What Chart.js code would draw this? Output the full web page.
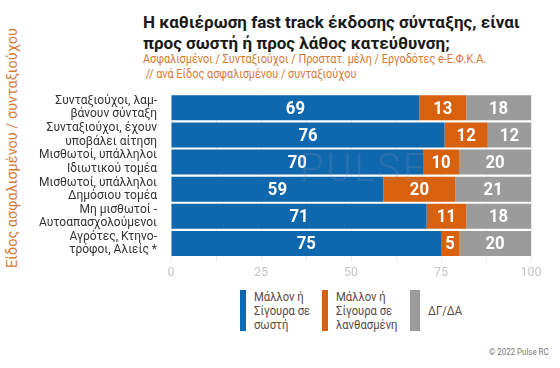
<!DOCTYPE html>
<html>
<head>
<meta charset="utf-8">
<script src="https://cdn.jsdelivr.net/npm/chart.js@4"></script>
<style>
  html, body { margin:0; padding:0; background:#fff; }
  body { width:560px; height:368px; position:relative; overflow:hidden;
         font-family:"Roboto",sans-serif; }
  #title { position:absolute; left:143px; top:12px; font-size:17px; font-weight:bold;
           line-height:21px; color:#1a1a1a; }
  #subtitle { position:absolute; left:143px; top:51px; font-size:12.5px; line-height:15px;
              color:#d57a35; transform:scaleX(0.87); transform-origin:left top; white-space:nowrap; }
  #ytitle { position:absolute; left:12px; top:148px; transform:translate(-50%,-50%) rotate(-90deg);
            white-space:nowrap; font-size:14.5px; color:#d57a35; }
  #wrap { position:absolute; left:0; top:75px; width:560px; height:208px; }
  #legend { position:absolute; top:290px; left:240px; display:flex; }
  .li { display:flex; align-items:flex-start; margin-right:6px; }
  .box { width:10px; height:41px; margin-right:8px; }
  .lt { font-size:12.5px; line-height:14px; color:#5a4a44; transform:scaleX(0.9); transform-origin:left top; white-space:nowrap; }
  #copy { position:absolute; right:11px; top:347px; font-size:9px; color:#777;
          transform:scaleX(0.88); transform-origin:right top; }
  #wm { position:absolute; left:300px; top:146px; font-size:38px; letter-spacing:3px; font-weight:300;
        color:rgba(150,150,175,0.22); z-index:2; }
</style>
</head>
<body>
<div id="title">Η καθιέρωση fast track έκδοσης σύνταξης, είναι<br>προς σωστή ή προς λάθος κατεύθυνση;</div>
<div id="subtitle">Ασφαλισμένοι / Συνταξιούχοι / Προστατ. μέλη / Εργοδότες e-Ε.Φ.Κ.Α.<br>&nbsp;// ανά Είδος ασφαλισμένου / συνταξιούχου</div>
<div id="ytitle">Είδος ασφαλισμένου / συνταξιούχου</div>
<div id="wrap"><canvas id="c"></canvas></div>
<div id="wm">PULSE</div>
<div id="legend"></div>
<div id="copy">© 2022 Pulse RC</div>
<script>
const categories = [
  ["Συνταξιούχοι, λαμ-", "βάνουν σύνταξη"],
  ["Συνταξιούχοι, έχουν", "υποβάλει αίτηση"],
  ["Μισθωτοί, υπάλληλοι", "Ιδιωτικού τομέα"],
  ["Μισθωτοί, υπάλληλοι", "Δημόσιου τομέα"],
  ["Μη μισθωτοί -", "Αυτοαπασχολούμενοι"],
  ["Αγρότες, Κτηνο-", "τρόφοι, Αλιείς *"]
];
const seriesNames = [
  ["Μάλλον ή", "Σίγουρα σε", "σωστή"],
  ["Μάλλον ή", "Σίγουρα σε", "λανθασμένη"],
  ["ΔΓ/ΔΑ"]
];
const correctValues = [69, 76, 70, 59, 71, 75];
const wrongValues   = [13, 12, 10, 20, 11, 5];
const dkValues      = [18, 12, 20, 21, 18, 20];
const tickLabels = [0, 25, 50, 75, 100];
const colors = ["#0f67ae", "#d8610f", "#9b9b9b"];

const allValues = [correctValues, wrongValues, dkValues];

// legend
const lg = document.getElementById('legend');
const legendWidths = [76, 82, 60];
seriesNames.forEach((n, i) => {
  const d = document.createElement('div'); d.className = 'li';
  d.style.width = legendWidths[i] + 'px';
  const single = n.length === 1;
  d.innerHTML = '<div class="box" style="background:' + colors[i] + '"></div><div class="lt" style="' +
    (single ? 'margin-top:14px' : '') + '">' + n.join('<br>') + '</div>';
  lg.appendChild(d);
});

const labelPlugin = {
  id: 'vals',
  afterDatasetsDraw(chart) {
    const ctx = chart.ctx;
    chart.data.datasets.forEach((ds, di) => {
      chart.getDatasetMeta(di).data.forEach((bar, i) => {
        const x = (bar.x + bar.base) / 2;
        ctx.save();
        ctx.translate(x, bar.y + 1);
        ctx.scale(0.88, 1);
        ctx.font = 'bold 19px Roboto, sans-serif';
        ctx.fillStyle = '#fff';
        ctx.textAlign = 'center';
        ctx.textBaseline = 'middle';
        ctx.fillText(String(ds.data[i]), 0, 0);
        ctx.restore();
      });
    });
  }
};

new Chart(document.getElementById('c'), {
  type: 'bar',
  data: {
    labels: categories,
    datasets: allValues.map((v, i) => ({
      label: seriesNames[i].join(' '),
      data: v,
      backgroundColor: colors[i],
      categoryPercentage: 1,
      barPercentage: 0.92
    }))
  },
  options: {
    indexAxis: 'y',
    responsive: true,
    maintainAspectRatio: false,
    animation: false,
    layout: { padding: { top: 8, right: 29, bottom: 0, left: 0 } },
    plugins: { legend: { display: false }, tooltip: { enabled: false } },
    scales: {
      x: {
        stacked: true, min: 0, max: 100,
        ticks: {
          stepSize: 12.5,
          autoSkip: false,
          maxRotation: 0,
          color: '#c4c4c4',
          font: { size: 12.5, family: 'Roboto, sans-serif' },
          callback: (v) => tickLabels.includes(v) ? String(v) : ''
        },
        grid: { color: '#ececec', drawTicks: true, tickLength: 5 },
        border: { display: false }
      },
      y: {
        stacked: true,
        afterFit: (s) => { s.width = 171; },
        ticks: {
          autoSkip: false,
          color: '#333',
          padding: 6,
          font: { size: 12, family: 'Roboto, sans-serif', lineHeight: 1.1 }
        },
        grid: { display: false },
        border: { display: false }
      }
    }
  },
  plugins: [labelPlugin]
});
</script>
</body>
</html>
